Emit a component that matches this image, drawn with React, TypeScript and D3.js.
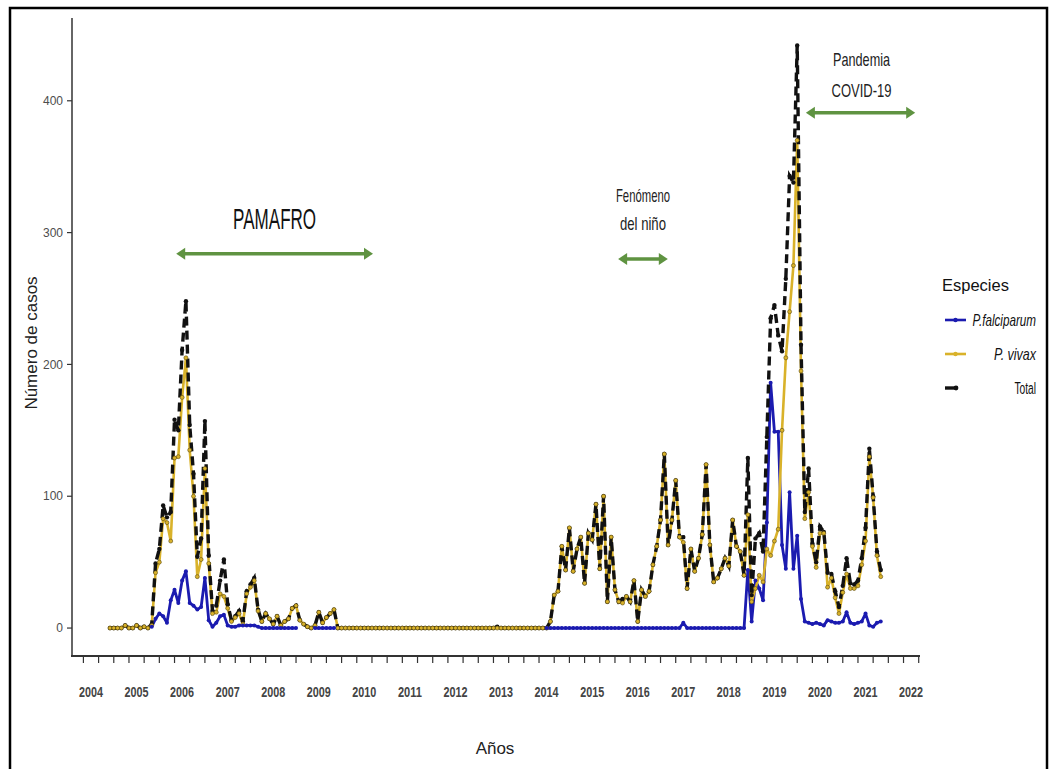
import React from "react";
import * as d3 from "d3";

// monthly series, June 2004 .. May 2021 (204 months)
const FIRST_MONTH = 2004 + 5 / 12;

const falciparum: (number | null)[] = [
  // 2004
  null, null, null, null, null, null, null,
  // 2005
  null, null, null, null, 1, 7, 11, 9, 4, 21, 29, 19,
  // 2006
  36, 43, 19, 17, 14, 16, 38, 6, 1, 4, 9, 10,
  // 2007
  2, 1, 1, 2, 2, 2, 2, 2, 1, 0, 0, 0,
  // 2008
  0, 0, 0, 0, 0, 0, 0, null, null, null, null, 0,
  // 2009
  0, 0, 0, 0, 0, null, null, null, null, null, null, null,
  // 2010
  null, null, null, null, null, null, null, null, null, null, null, null,
  // 2011
  null, null, null, null, null, null, null, null, null, null, null, null,
  // 2012
  null, null, null, null, null, null, null, null, null, null, null, null,
  // 2013
  null, null, null, null, null, null, null, null, null, null, null, null,
  // 2014
  0, 0, 0, 0, 0, 0, 0, 0, 0, 0, 0, 0,
  // 2015
  0, 0, 0, 0, 0, 0, 0, 0, 0, 0, 0, 0,
  // 2016
  0, 0, 0, 0, 0, 0, 0, 0, 0, 0, 0, 0,
  // 2017
  4, 0, 0, 0, 0, 0, 0, 0, 0, 0, 0, 0,
  // 2018
  0, 0, 0, 0, 0, 44, 5, 36, 30, 21, 80, 186,
  // 2019
  149, 149, 63, 45, 103, 45, 70, 22, 5, 4, 3, 4,
  // 2020
  3, 2, 6, 5, 4, 4, 5, 12, 4, 3, 4, 5,
  // 2021
  11, 2, 1, 4, 5,
];

const vivax: number[] = [
  // 2004
  0, 0, 0, 0, 2, 0, 0,
  // 2005
  2, 0, 1, 0, 2, 42, 50, 83, 80, 66, 129, 130,
  // 2006
  175, 205, 135, 100, 39, 52, 121, 49, 11, 12, 26, 24,
  // 2007
  15, 5, 8, 11, 3, 26, 31, 36, 13, 5, 11, 7,
  // 2008
  3, 9, 2, 5, 7, 15, 17, 6, 3, 1, 0, 2,
  // 2009
  12, 4, 8, 11, 14, 0, 0, 0, 0, 0, 0, 0,
  // 2010
  0, 0, 0, 0, 0, 0, 0, 0, 0, 0, 0, 0,
  // 2011
  0, 0, 0, 0, 0, 0, 0, 0, 0, 0, 0, 0,
  // 2012
  0, 0, 0, 0, 0, 0, 0, 0, 0, 0, 0, 0,
  // 2013
  0, 0, 0, 0, 0, 0, 0, 0, 0, 0, 0, 0,
  // 2014
  0, 5, 25, 28, 62, 44, 76, 43, 60, 69, 34, 72,
  // 2015
  67, 94, 45, 100, 20, 69, 29, 20, 19, 24, 20, 36,
  // 2016
  5, 29, 24, 28, 48, 62, 82, 132, 63, 82, 112, 69,
  // 2017
  65, 30, 60, 43, 53, 71, 124, 63, 35, 38, 45, 53,
  // 2018
  47, 82, 62, 58, 40, 86, 20, 30, 40, 35, 60, 55,
  // 2019
  66, 75, 150, 205, 240, 275, 370, 195, 83, 103, 62, 46,
  // 2020
  72, 72, 31, 38, 23, 11, 27, 41, 30, 30, 32, 48,
  // 2021
  66, 130, 99, 55, 39,
];

const total: number[] = [
  // 2004
  0, 0, 0, 0, 2, 0, 0,
  // 2005
  2, 0, 1, 0, 3, 49, 60, 93, 84, 88, 158, 150,
  // 2006
  211, 248, 154, 117, 54, 68, 157, 55, 13, 17, 36, 52,
  // 2007
  18, 6, 9, 13, 5, 28, 33, 38, 14, 5, 11, 7,
  // 2008
  3, 9, 2, 5, 7, 15, 17, 6, 3, 1, 0, 2,
  // 2009
  12, 4, 8, 11, 14, 0, 0, 0, 0, 0, 0, 0,
  // 2010
  0, 0, 0, 0, 0, 0, 0, 0, 0, 0, 0, 0,
  // 2011
  0, 0, 0, 0, 0, 0, 0, 0, 0, 0, 0, 0,
  // 2012
  0, 0, 0, 0, 0, 0, 0, 0, 0, 0, 0, 1,
  // 2013
  0, 0, 0, 0, 0, 0, 0, 0, 0, 0, 0, 0,
  // 2014
  0, 5, 25, 28, 62, 44, 76, 43, 60, 69, 34, 72,
  // 2015
  67, 94, 45, 100, 20, 69, 29, 20, 22, 24, 20, 36,
  // 2016
  5, 29, 24, 28, 48, 62, 82, 132, 63, 82, 112, 69,
  // 2017
  69, 30, 60, 43, 53, 71, 124, 63, 35, 38, 45, 53,
  // 2018
  47, 82, 62, 58, 40, 129, 25, 68, 72, 58, 145, 235,
  // 2019
  245, 222, 210, 265, 343, 338, 442, 215, 88, 121, 64, 50,
  // 2020
  77, 73, 42, 41, 28, 16, 32, 53, 34, 33, 36, 53,
  // 2021
  76, 136, 100, 58, 44,
];

const yearLabels = d3.range(2004, 2023);
const yTicks = [0, 100, 200, 300, 400];

const periods = [
  { lines: ["PAMAFRO"], widths: [83], from: 2005.87, to: 2010.19, at: 284 },
  { lines: ["Fenómeno", "del niño"], widths: [54, 46], from: 2015.57, to: 2016.66, at: 280 },
  { lines: ["Pandemia", "COVID-19"], widths: [57, 60], from: 2019.69, to: 2022.09, at: 391 },
];

const legendItems = [
  { label: "P.falciparum", color: "#1b1bb0", italic: true, squeeze: 0.73, dashed: false },
  { label: "P. vivax", color: "#d9b22a", italic: true, squeeze: 0.78, dashed: false },
  { label: "Total", color: "#111", italic: false, squeeze: 0.64, dashed: true },
];

const BLUE = "#1b1bb0";
const GOLD = "#d9b22a";
const GREEN = "#5f9341";
const SANS = "'Liberation Sans', Arial, sans-serif";

type Pt = [number, number | null];

const App = () => {
  const width = 1050;
  const height = 769;

  const x = d3.scaleLinear().domain([2003.583, 2022.195]).range([72, 920]);
  const y = d3.scaleLinear().domain([-21.2, 462.8]).range([656, 18]);

  const toPts = (arr: (number | null)[]): Pt[] =>
    arr.map((v, i) => [FIRST_MONTH + i / 12, v]);

  const line = d3
    .line<Pt>()
    .defined(d => d[1] != null)
    .x(d => x(d[0]))
    .y(d => y(d[1] as number));

  const fal = toPts(falciparum);
  const viv = toPts(vivax);
  const tot = toPts(total);

  const minorTicks = d3.range(2004 - 1 / 6, 2022.25, 1 / 3);

  const arrow = (x1: number, x2: number, yy: number, key: string) => {
    const h = 9;
    const w = 6;
    return (
      <g key={key}>
        <line x1={x1 + h - 1} x2={x2 - h + 1} y1={yy} y2={yy} stroke={GREEN} strokeWidth={3.5} />
        <path d={`M${x1},${yy} L${x1 + h},${yy - w} L${x1 + h},${yy + w} Z`} fill={GREEN} />
        <path d={`M${x2},${yy} L${x2 - h},${yy - w} L${x2 - h},${yy + w} Z`} fill={GREEN} />
      </g>
    );
  };

  const narrow = (w: number) => ({ textLength: w, lengthAdjust: "spacingAndGlyphs" as const });

  return (
    <div style={{ position: "absolute", left: 0, top: 0 }}>
      <svg width={width} height={height} style={{ display: "block", background: "#fff" }}>
        <rect x={10} y={8} width={1037} height={775} fill="none" stroke="#000" strokeWidth={2.5} />

        {/* axes */}
        <line x1={72} x2={72} y1={18} y2={657} stroke="#333" strokeWidth={1.5} />
        <line x1={71} x2={920} y1={656} y2={656} stroke="#333" strokeWidth={1.8} />
        {yTicks.map(t => (
          <g key={t}>
            <line x1={67} x2={72} y1={y(t)} y2={y(t)} stroke="#333" strokeWidth={1.2} />
            <text x={63} y={y(t)} dy="0.35em" textAnchor="end" fontFamily={SANS} fontSize={12} fill="#4d4d4d">
              {t}
            </text>
          </g>
        ))}
        {minorTicks.map((t, i) => (
          <line key={i} x1={x(t)} x2={x(t)} y1={656} y2={663} stroke="#333" strokeWidth={1.2} />
        ))}
        {yearLabels.map(yr => (
          <text
            key={yr}
            x={x(yr)}
            y={697}
            textAnchor="middle"
            fontFamily={SANS}
            fontWeight="bold"
            fontSize={15}
            fill="#444"
            {...narrow(24)}
          >
            {yr}
          </text>
        ))}
        <text
          transform={`translate(37,343) rotate(-90)`}
          textAnchor="middle"
          fontFamily={SANS}
          fontSize={17}
          fill="#222"
        >
          Número de casos
        </text>
        <text x={495} y={754} textAnchor="middle" fontFamily={SANS} fontSize={17} fill="#222">
          Años
        </text>

        {/* series lines */}
        <path d={line(fal) || ""} fill="none" stroke={BLUE} strokeWidth={2.8} strokeLinejoin="round" />
        <path d={line(viv) || ""} fill="none" stroke={GOLD} strokeWidth={2.6} strokeLinejoin="round" />
        <path
          d={line(tot) || ""}
          fill="none"
          stroke="#111"
          strokeWidth={3.4}
          strokeDasharray="9,5"
        />

        {/* points */}
        {tot.map((d, i) => (
          <circle key={"t" + i} cx={x(d[0])} cy={y(d[1] as number)} r={2.2} fill="#111" />
        ))}
        {viv.map((d, i) => (
          <circle
            key={"v" + i}
            cx={x(d[0])}
            cy={y(d[1] as number)}
            r={2}
            fill={GOLD}
            stroke="#5a4a10"
            strokeWidth={0.6}
          />
        ))}
        {fal
          .filter(d => d[1] != null)
          .map((d, i) => (
            <circle key={"f" + i} cx={x(d[0])} cy={y(d[1] as number)} r={2} fill={BLUE} />
          ))}

        {/* period annotations */}
        {periods.map((p, k) => {
          const x1 = x(p.from);
          const x2 = x(p.to);
          const ay = y(p.at);
          const cx = (x1 + x2) / 2;
          return (
            <g key={k}>
              {arrow(x1, x2, ay, "a" + k)}
              {k === 0 ? (
                <text
                  x={cx}
                  y={ay - 25}
                  textAnchor="middle"
                  fontFamily={SANS}
                  fontSize={29}
                  fill="#111"
                  {...narrow(p.widths[0])}
                >
                  {p.lines[0]}
                </text>
              ) : (
                p.lines.map((s, j) => (
                  <text
                    key={j}
                    x={cx + (k === 2 ? 1 : 0)}
                    y={ay - (k === 2 ? 47 : 57) + j * (k === 2 ? 31 : 28)}
                    textAnchor="middle"
                    fontFamily={SANS}
                    fontSize={19}
                    fill="#222"
                    {...narrow(p.widths[j])}
                  >
                    {s}
                  </text>
                ))
              )}
            </g>
          );
        })}

        {/* legend */}
        <text x={942} y={291} fontFamily={SANS} fontSize={16.5} fill="#111">
          Especies
        </text>
        {legendItems.map((it, i) => {
          const ly = 320 + i * 34;
          return (
            <g key={it.label}>
              <line
                x1={945}
                x2={it.dashed ? 956 : 966}
                y1={ly}
                y2={ly}
                stroke={it.color}
                strokeWidth={it.dashed ? 3.4 : 2.6}
              />
              <circle cx={it.dashed ? 956 : 955.5} cy={ly} r={it.dashed ? 2.4 : 2.2} fill={it.color} />
              <text
                transform={`translate(1036,${ly}) scale(${it.squeeze},1)`}
                dy="0.35em"
                textAnchor="end"
                fontFamily={SANS}
                fontStyle={it.italic ? "italic" : "normal"}
                fontSize={16}
                fill="#111"
              >
                {it.label}
              </text>
            </g>
          );
        })}
      </svg>
    </div>
  );
};

export default App;
